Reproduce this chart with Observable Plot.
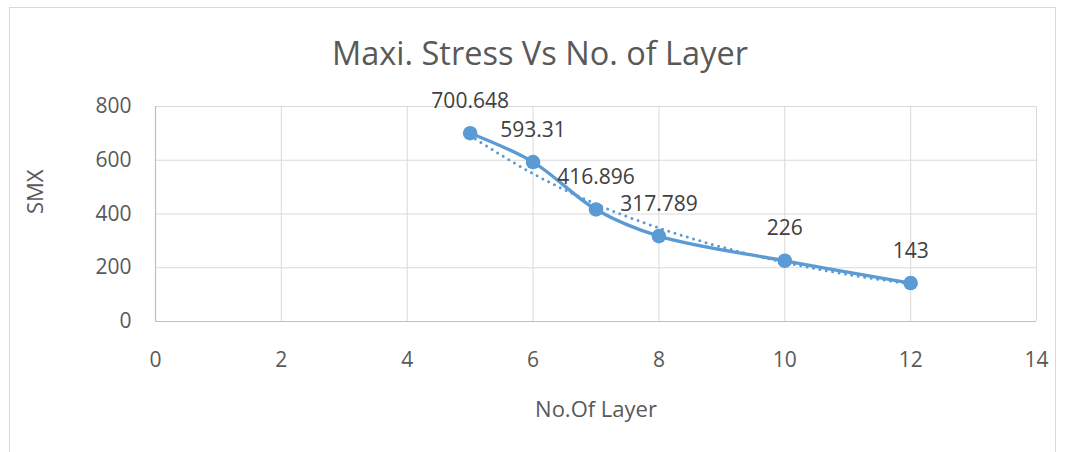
<!DOCTYPE html>
<html>
<head>
<meta charset="utf-8">
<script src="https://cdn.jsdelivr.net/npm/d3@7"></script>
<script src="https://cdn.jsdelivr.net/npm/@observablehq/plot@0.6"></script>
<style>
  html, body { margin: 0; padding: 0; background: #fff; }
  body { width: 1066px; height: 452px; overflow: hidden; position: relative; font-family: "Open Sans", sans-serif; }
  #frame { position: absolute; left: 9px; top: 7px; width: 1047px; height: 470px; border: 1px solid #d9d9d9; pointer-events: none; box-sizing: border-box; }
  #title { height: 80px; box-sizing: border-box; text-align: center; font-size: 32.5px; line-height: 1; padding-top: 37px; color: #595959; padding-left: 14px; white-space: nowrap; }
  #chart svg { display: block; }
</style>
</head>
<body>
<div id="frame"></div>
<div id="title">Maxi. Stress Vs No. of Layer</div>
<div id="chart"></div>
<script>
// Data
const layers = [5, 6, 7, 8, 10, 12];
const smx = [700.648, 593.31, 416.896, 317.789, 226, 143];
const labels = ["700.648", "593.31", "416.896", "317.789", "226", "143"];
// dotted trendline (exponential-looking)
const trendX = [5, 6, 7, 8, 9, 10, 11, 12];
const trendY = [691, 550, 437, 348, 277, 220, 175, 140];
const xTicks = [0, 2, 4, 6, 8, 10, 12, 14];
const yTicks = [0, 200, 400, 600, 800];

const points = layers.map((x, i) => ({x, y: smx[i], label: labels[i]}));
const trend = trendX.map((x, i) => ({x, y: trendY[i]}));

const blue = "#5b9bd5";
const plot = Plot.plot({
  width: 1066,
  height: 372,
  marginLeft: 155,
  marginRight: 30,
  marginTop: 26,
  marginBottom: 131,
  style: {fontFamily: "'Open Sans', sans-serif", background: "transparent"},
  x: {domain: [0, 14], ticks: xTicks},
  y: {domain: [0, 800], ticks: yTicks},
  marks: [
    Plot.gridX(xTicks, {stroke: "#d9d9d9", strokeOpacity: 1, strokeWidth: 1}),
    Plot.gridY(yTicks, {stroke: "#d9d9d9", strokeOpacity: 1, strokeWidth: 1}),
    Plot.ruleY([0], {stroke: "#bfbfbf", strokeWidth: 1.2}),
    Plot.ruleX([0], {stroke: "#bfbfbf", strokeWidth: 1.2}),
    Plot.axisX(xTicks, {tickSize: 0, tickPadding: 31, fontSize: 21, fill: "#595959", label: null}),
    Plot.axisY(yTicks, {tickSize: 0, tickPadding: 24, fontSize: 21, fill: "#595959", label: null}),
    Plot.line(trend, {x: "x", y: "y", curve: "catmull-rom", stroke: blue, strokeWidth: 3, strokeDasharray: "0 6.5", strokeLinecap: "round"}),
    Plot.line(points, {x: "x", y: "y", curve: "catmull-rom", stroke: blue, strokeWidth: 3.3}),
    Plot.dot(points, {x: "x", y: "y", r: 7.3, fill: blue, stroke: null}),
    Plot.text(points, {x: "x", y: "y", text: "label", dy: -32, fontSize: 21, fill: "#404040"}),
    Plot.text(["No.Of Layer"], {frameAnchor: "bottom", dy: 95, fontSize: 22, fill: "#595959"}),
    Plot.text(["SMX"], {frameAnchor: "left", dx: -120, rotate: -90, fontSize: 22, fill: "#595959"})
  ]
});
document.getElementById("chart").appendChild(plot);
</script>
</body>
</html>
